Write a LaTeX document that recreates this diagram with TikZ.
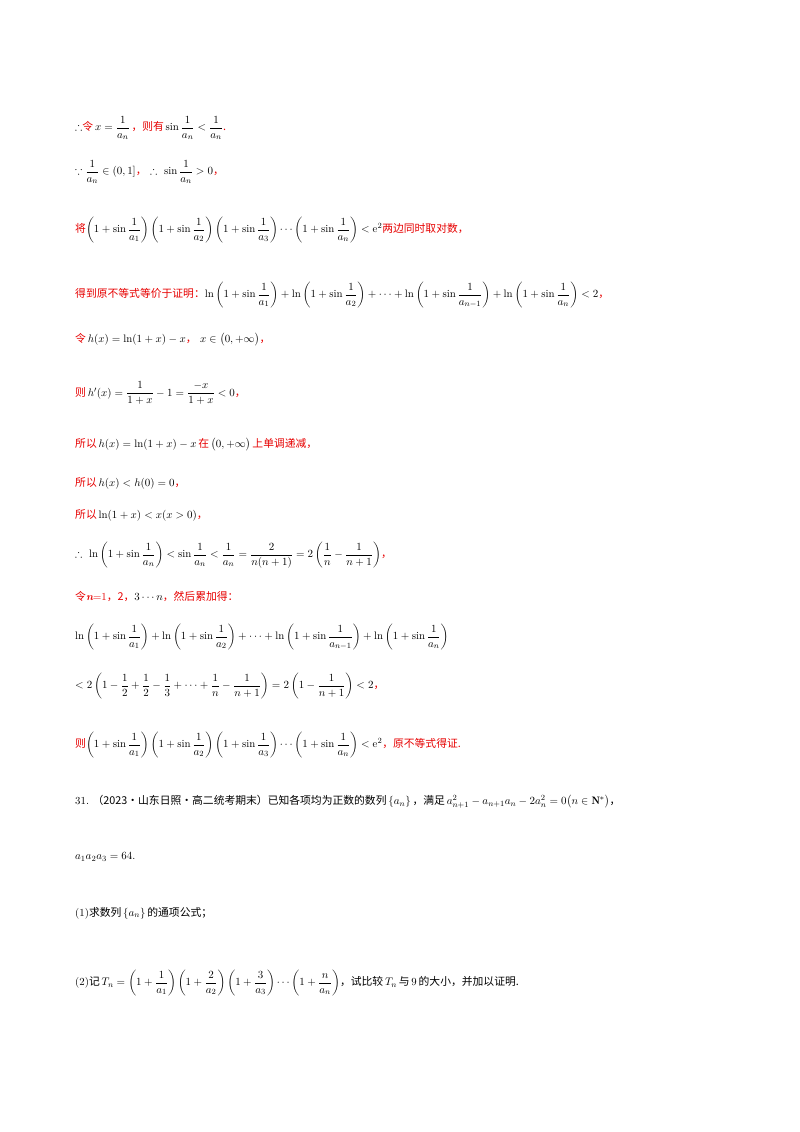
\documentclass[tikz,border=0pt]{standalone}
\usepackage{amsmath,amssymb}
\usepackage{fontspec}
\newfontfamily\cjk{Noto Sans CJK SC}
\definecolor{rd}{RGB}{230,0,0}
\newcommand{\R}[1]{\textcolor{rd}{\cjk #1}}
\begin{document}
\begin{tikzpicture}[x=1pt,y=-1pt,ln/.style={anchor=west,inner sep=0pt,font=\fontsize{10.8}{12}\selectfont}]
\useasboundingbox (0,0) rectangle (800,1132);
\node[ln] (l1) at (75,128) {$\therefore$\R{令}\,$x=\dfrac{1}{a_n}$\,\R{，则有}\,$\sin\dfrac{1}{a_n}<\dfrac{1}{a_n}$\R{.}};
\node[ln] (l2) at (75,172) {$\because\dfrac{1}{a_n}\in(0,1]$\R{，}\ $\therefore\ \sin\dfrac{1}{a_n}>0$\R{，}};
\node[ln] (l3) at (75,230) {\R{将}$\left(1+\sin\dfrac{1}{a_1}\right)\left(1+\sin\dfrac{1}{a_2}\right)\left(1+\sin\dfrac{1}{a_3}\right)\cdots\left(1+\sin\dfrac{1}{a_n}\right)<\mathrm{e}^2$\R{两边同时取对数，}};
\node[ln] (l4) at (75,295) {\R{得到原不等式等价于证明：}$\ln\left(1+\sin\dfrac{1}{a_1}\right)+\ln\left(1+\sin\dfrac{1}{a_2}\right)+\cdots+\ln\left(1+\sin\dfrac{1}{a_{n-1}}\right)+\ln\left(1+\sin\dfrac{1}{a_n}\right)<2$\R{，}};
\node[ln] (l5) at (75,340) {\R{令}\,$h(x)=\ln(1+x)-x$\R{，}\ $x\in\bigl(0,+\infty\bigr)$\R{，}};
\node[ln] (l6) at (75,393) {\R{则}\,$h'(x)=\dfrac{1}{1+x}-1=\dfrac{-x}{1+x}<0$\R{，}};
\node[ln] (l7) at (75,445) {\R{所以}\,$h(x)=\ln(1+x)-x$\,\R{在}\,$\bigl(0,+\infty\bigr)$\,\R{上单调递减，}};
\node[ln] (l8) at (75,483) {\R{所以}\,$h(x)<h(0)=0$\R{，}};
\node[ln] (l9) at (75,515) {\R{所以}\,$\ln(1+x)<x(x>0)$\R{，}};
\node[ln] (l10) at (75,555) {$\therefore\ \ln\left(1+\sin\dfrac{1}{a_n}\right)<\sin\dfrac{1}{a_n}<\dfrac{1}{a_n}=\dfrac{2}{n(n+1)}=2\left(\dfrac{1}{n}-\dfrac{1}{n+1}\right)$\R{，}};
\node[ln] (l11) at (75,596) {\R{令}\textcolor{rd}{\bfseries\itshape n}\textcolor{rd}{=1}\R{，2，}$3\cdots n$\R{，然后累加得：}};
\node[ln] (l12) at (75,637) {$\ln\left(1+\sin\dfrac{1}{a_1}\right)+\ln\left(1+\sin\dfrac{1}{a_2}\right)+\cdots+\ln\left(1+\sin\dfrac{1}{a_{n-1}}\right)+\ln\left(1+\sin\dfrac{1}{a_n}\right)$};
\node[ln] (l13) at (75,686) {$<2\left(1-\dfrac12+\dfrac12-\dfrac13+\cdots+\dfrac1n-\dfrac{1}{n+1}\right)=2\left(1-\dfrac{1}{n+1}\right)<2$\R{，}};
\node[ln] (l14) at (75,745) {\R{则}$\left(1+\sin\dfrac{1}{a_1}\right)\left(1+\sin\dfrac{1}{a_2}\right)\left(1+\sin\dfrac{1}{a_3}\right)\cdots\left(1+\sin\dfrac{1}{a_n}\right)<\mathrm{e}^2$\R{，原不等式得证.}};
\node[ln] (l15) at (75,802) {31.\ {\cjk （2023·山东日照·高二统考期末）已知各项均为正数的数列}\,$\left\{a_n\right\}$\,{\cjk ，满足}\,$a_{n+1}^2-a_{n+1}a_n-2a_n^2=0\bigl(n\in\mathbf{N}^*\bigr)${\cjk ，}};
\node[ln] (l16) at (75,857) {$a_1a_2a_3=64$.};
\node[ln] (l17) at (75,913) {(1){\cjk 求数列}\,$\left\{a_n\right\}$\,{\cjk 的通项公式；}};
\node[ln] (l18) at (75,983) {(2){\cjk 记}\,$T_n=\left(1+\dfrac{1}{a_1}\right)\left(1+\dfrac{2}{a_2}\right)\left(1+\dfrac{3}{a_3}\right)\cdots\left(1+\dfrac{n}{a_n}\right)${\cjk ，试比较}\,$T_n$\,{\cjk 与}\,9\,{\cjk 的大小，并加以证明.}};
\end{tikzpicture}
\end{document}
